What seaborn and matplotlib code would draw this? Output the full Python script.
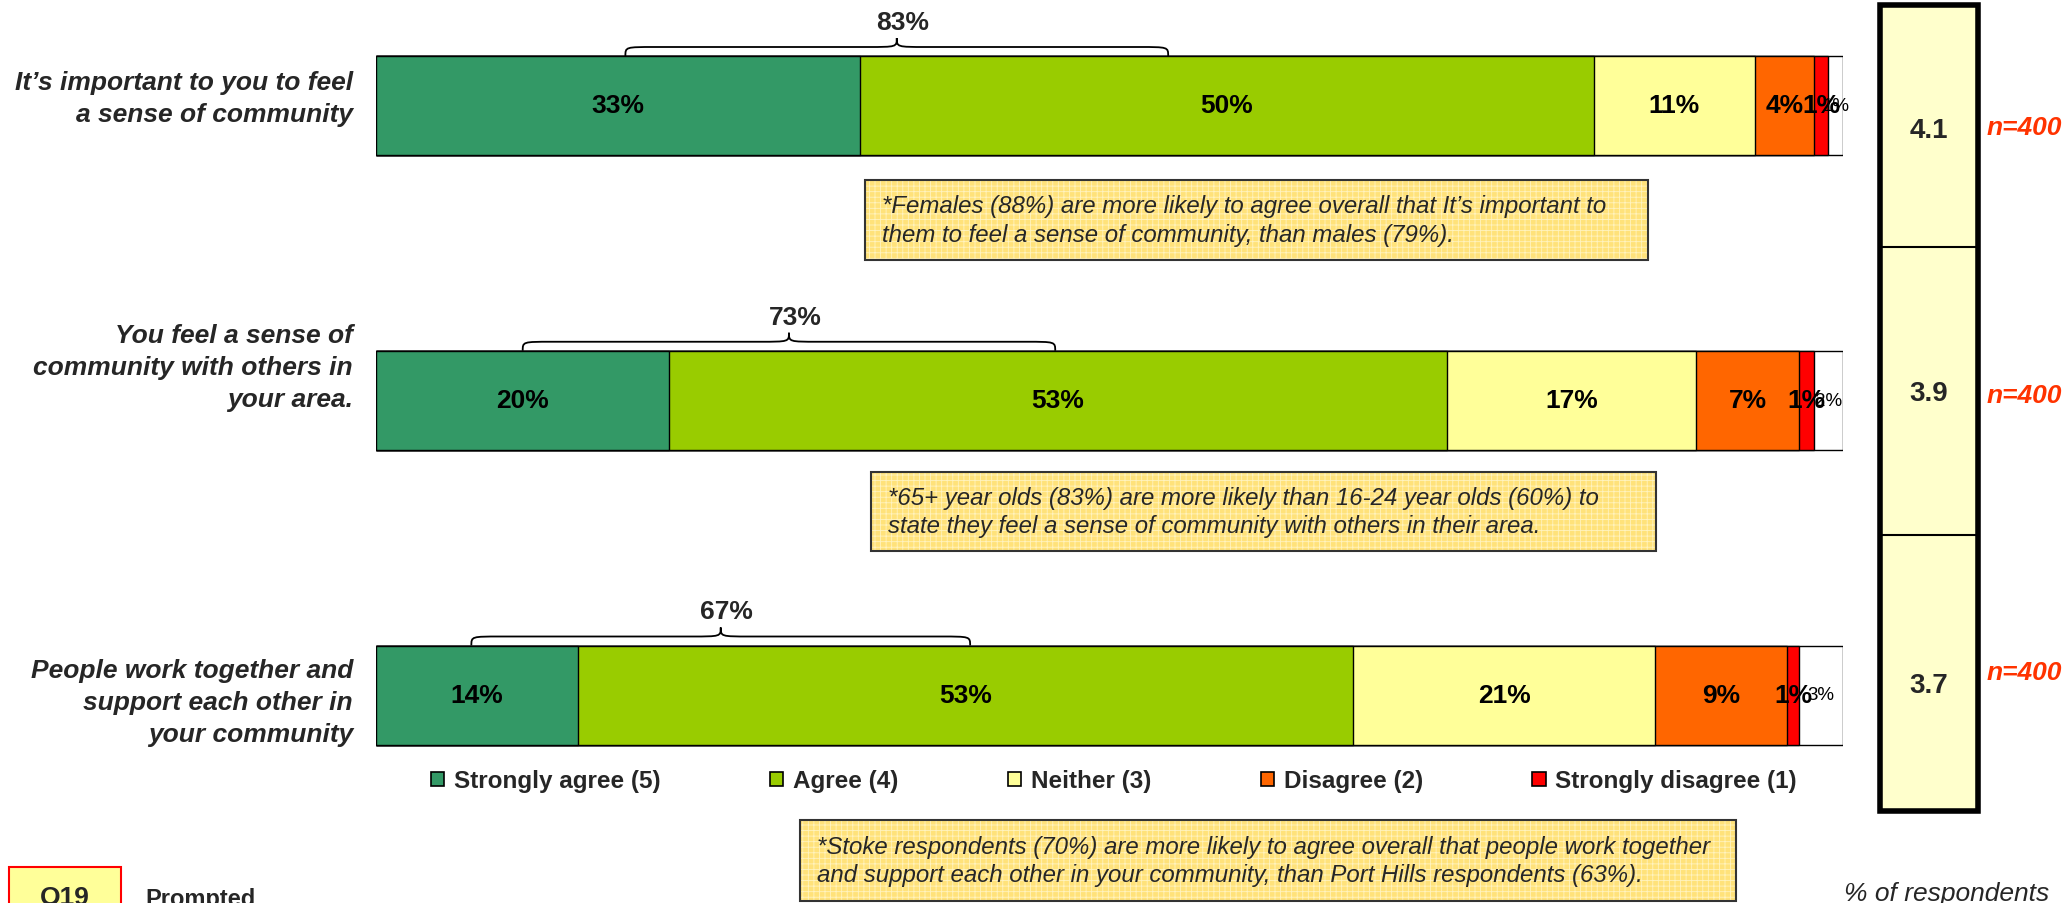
import matplotlib
matplotlib.use("Agg")
import matplotlib.pyplot as plt
from matplotlib.patches import Rectangle, Patch, PathPatch
from matplotlib.path import Path
import pandas as pd
import seaborn as sns

# Data
statements = [
    "It\u2019s important to you to feel\na sense of community",
    "You feel a sense of\ncommunity with others in\nyour area.",
    "People work together and\nsupport each other in\nyour community",
]
categories = ["Strongly agree (5)", "Agree (4)", "Neither (3)",
              "Disagree (2)", "Strongly disagree (1)", "Don't know"]
strongly_agree = [33, 20, 13.8]
agree = [50, 53, 52.8]
neither = [11, 17, 20.6]
disagree = [4, 7, 9.0]
strongly_disagree = [1, 1, 0.8]
dont_know = [1, 2, 3.0]
means = ["4.1", "3.9", "3.7"]
base_sizes = ["n=400", "n=400", "n=400"]
notes = [
    "*Females (88%) are more likely to agree overall that It\u2019s important to\nthem to feel a sense of community, than males (79%).",
    "*65+ year olds (83%) are more likely than 16-24 year olds (60%) to\nstate they feel a sense of community with others in their area.",
    "*Stoke respondents (70%) are more likely to agree overall that people work together\nand support each other in your community, than Port Hills respondents (63%).",
]
brace_spans = [(17, 54), (10, 46.3), (6.5, 40.5)]

colors = ["#339966", "#99CC00", "#FFFF99", "#FF6600", "#FF0000", "#FFFFFF"]

df = pd.DataFrame({
    "statement": statements,
    categories[0]: strongly_agree,
    categories[1]: agree,
    categories[2]: neither,
    categories[3]: disagree,
    categories[4]: strongly_disagree,
    categories[5]: dont_know,
})
cum = df[categories].cumsum(axis=1)

W, H = 2070, 904


def fx(x):
    return x / W


def fy(y):
    return 1 - y / H


sns.set_style("white")
plt.rcParams["font.family"] = ["Liberation Sans", "DejaVu Sans"]
plt.rcParams["hatch.linewidth"] = 0.6

fig = plt.figure(figsize=(W / 100, H / 100), dpi=100, facecolor="white")

# Bars axis: x 376..1843 px, rows centred at 106.5, 401, 696 px
ax = fig.add_axes([fx(376), 0, fx(1843) - fx(376), 1])
row_px = 294.75
bar_h = 99 / row_px

for col, c in reversed(list(zip(categories, colors))):
    sns.barplot(
        x=cum[col], y=df["statement"], orient="h", color=c,
        saturation=1, edgecolor="black", linewidth=1,
        width=bar_h, errorbar=None, ax=ax
    )

ax.set_xlim(0, 100)
ax.set_ylim((904 - 106.5) / row_px, -106.5 / row_px)
ax.axis("off")

# Segment labels
for i in range(len(statements)):
    for j, col in enumerate(categories):
        v = df.loc[i, col]
        xc = cum.loc[i, col] - v / 2
        if j < 5:
            ax.text(xc, i, f"{v:.0f}%", ha="center", va="center",
                    fontsize=19, fontweight="bold", color="black")
        else:
            ax.text(xc, i, f"{v:.0f}%", ha="center", va="center",
                    fontsize=13.5, color="black")

# Braces with net agree totals
for i, (x0, x1) in enumerate(brace_spans):
    yb = i - bar_h / 2
    ym = yb - 9 / row_px
    yt = yb - 18 / row_px
    xc = (x0 + x1) / 2
    d = 2.0
    verts = [
        (x0, yb), (x0, ym), (x0, ym), (x0 + d, ym),
        (xc - d, ym),
        (xc, ym), (xc, ym), (xc, yt),
        (xc, ym), (xc, ym), (xc + d, ym),
        (x1 - d, ym),
        (x1, ym), (x1, ym), (x1, yb),
    ]
    codes = [Path.MOVETO, Path.CURVE4, Path.CURVE4, Path.CURVE4,
             Path.LINETO,
             Path.CURVE4, Path.CURVE4, Path.CURVE4,
             Path.CURVE4, Path.CURVE4, Path.CURVE4,
             Path.LINETO,
             Path.CURVE4, Path.CURVE4, Path.CURVE4]
    ax.add_patch(PathPatch(Path(verts, codes), facecolor="none",
                           edgecolor="black", linewidth=1.3))
    total = df.loc[i, categories[0]] + df.loc[i, categories[1]]
    ax.text(xc + 0.4, yb - 34 / row_px, f"{total:.0f}%", ha="center",
            va="center", fontsize=19, fontweight="bold")

# Statement labels
label_y = [99, 368, 703]
for s, y in zip(statements, label_y):
    fig.text(fx(353), fy(y), s, ha="right", va="center", fontsize=19,
             fontweight="bold", fontstyle="italic", linespacing=1.4)

# Note boxes
note_boxes = [(865, 181, 1648, 261), (871, 473, 1656, 552), (800, 821, 1736, 902)]
for txt, (x0, y0, x1, y1) in zip(notes, note_boxes):
    rect = [fx(x0), fy(y1), fx(x1) - fx(x0), fy(y0) - fy(y1)]
    fig.patches.append(Rectangle((rect[0], rect[1]), rect[2], rect[3],
                                 transform=fig.transFigure, facecolor="#FFE27A",
                                 edgecolor="none", zorder=1))
    fig.patches.append(Rectangle((rect[0], rect[1]), rect[2], rect[3],
                                 transform=fig.transFigure, facecolor="none",
                                 hatch="+++", edgecolor="#FFF3BF",
                                 linewidth=0, zorder=2))
    fig.patches.append(Rectangle((rect[0], rect[1]), rect[2], rect[3],
                                 transform=fig.transFigure, facecolor="none",
                                 edgecolor="#333333", linewidth=1.5, zorder=3))
    fig.text(fx(x0 + 17), fy((y0 + y1) / 2), txt, ha="left", va="center",
             fontsize=17.3, fontstyle="italic", linespacing=1.33, zorder=4)

# Legend
handles = [Patch(facecolor=c, edgecolor="black", linewidth=1.2)
           for c in colors[:5]]
fig.legend(handles, categories[:5], ncol=5, loc="center",
           bbox_to_anchor=(fx(1114), fy(782)), frameon=False,
           prop={"weight": "bold", "size": 17.5}, handlelength=0.55,
           handleheight=0.55, handletextpad=0.4, columnspacing=4.5)

# Mean score box
fig.patches.append(Rectangle((fx(1880), fy(812)), fx(1978) - fx(1880),
                             fy(6) - fy(812), transform=fig.transFigure,
                             facecolor="#FFFFCC", edgecolor="black",
                             linewidth=4, zorder=2))
cell_edges = [6, 248, 536, 812]
for y in cell_edges[1:-1]:
    fig.add_artist(plt.Line2D([fx(1880), fx(1978)], [fy(y), fy(y)],
                              color="black", linewidth=1.5, zorder=3))
mean_y = [131, 394, 686]
n_y = [128, 396, 673]
for m, n, ym_, yn in zip(means, base_sizes, mean_y, n_y):
    fig.text(fx(1929), fy(ym_), m, ha="center", va="center", fontsize=20,
             fontweight="bold", zorder=4)
    fig.text(fx(1987), fy(yn), n, ha="left", va="center", fontsize=19,
             fontweight="bold", fontstyle="italic", color="#FF3300")

fig.text(fx(2049), fy(894), "% of respondents", ha="right", va="center",
         fontsize=19, fontstyle="italic")

# Question tag
fig.patches.append(Rectangle((fx(9), fy(930)), fx(121) - fx(9),
                             fy(868) - fy(930), transform=fig.transFigure,
                             facecolor="#FFFF99", edgecolor="#FF0000",
                             linewidth=1.5))
fig.text(fx(65), fy(886), "Q19", ha="center", va="top", fontsize=19,
         fontweight="bold")
fig.text(fx(145), fy(888), "Prompted", ha="left", va="top", fontsize=17,
         fontweight="bold")

plt.savefig("out.png", dpi=100, facecolor="white")
plt.close()
